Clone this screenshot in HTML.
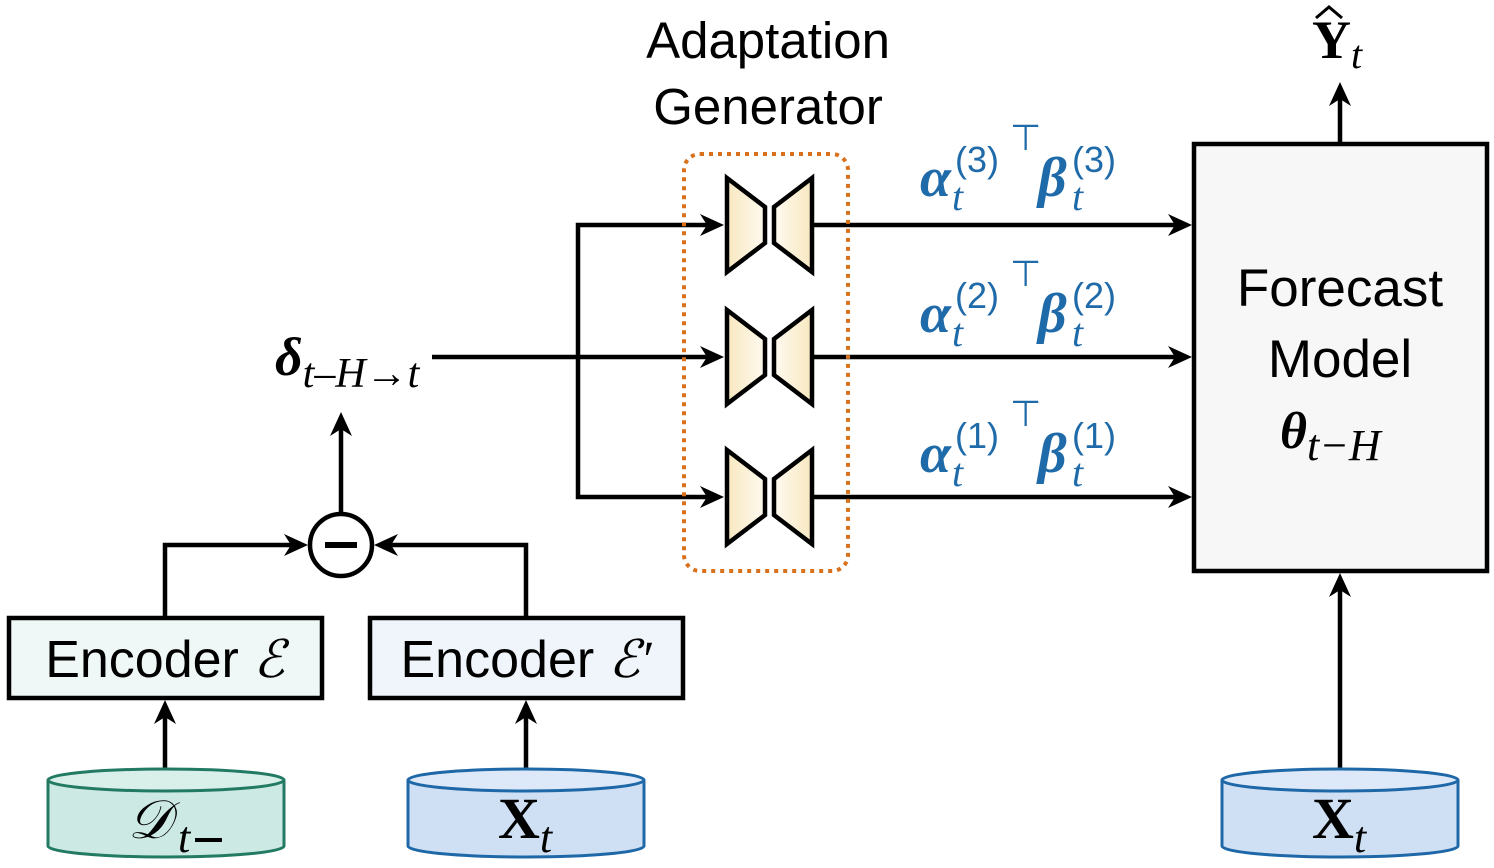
<!DOCTYPE html>
<html><head><meta charset="utf-8"><style>
html,body{margin:0;padding:0;background:#fff;}
svg{display:block;}
.sans{font-family:"Liberation Sans","DejaVu Sans",sans-serif;}
.dsans{font-family:"DejaVu Sans","Liberation Sans",sans-serif;}
.ser{font-family:"Liberation Serif","DejaVu Serif",serif;}
</style></head><body>
<svg width="1494" height="868" viewBox="0 0 1494 868" xmlns="http://www.w3.org/2000/svg">
<defs>
<linearGradient id="gy" x1="0" x2="1" y1="0" y2="0">
<stop offset="0" stop-color="#f8e8c0"/><stop offset="1" stop-color="#fffaf0"/>
</linearGradient>
<linearGradient id="gy2" x1="1" x2="0" y1="0" y2="0">
<stop offset="0" stop-color="#f8e8c0"/><stop offset="1" stop-color="#fffaf0"/>
</linearGradient>
<g id="bow">
<path d="M727,-47 L765,-18 L765,18 L727,47 Z" fill="url(#gy)" stroke="#000" stroke-width="4.5"/>
<path d="M812,-47 L774,-18 L774,18 L812,47 Z" fill="url(#gy2)" stroke="#000" stroke-width="4.5"/>
</g>
</defs>

<g stroke="#000" stroke-width="4.5" fill="none">
<polyline points="165,617 165,545 300,545"/>
<polyline points="526,617 526,545 382,545"/>
<line x1="341" y1="514" x2="341" y2="420"/>
<line x1="165" y1="768" x2="165" y2="708"/>
<line x1="526" y1="768" x2="526" y2="708"/>
<line x1="432" y1="357" x2="716" y2="357"/>
<polyline points="716,225 578,225 578,497 716,497"/>
<line x1="812" y1="225" x2="1184" y2="225"/>
<line x1="812" y1="357" x2="1184" y2="357"/>
<line x1="812" y1="497" x2="1184" y2="497"/>
<line x1="1340" y1="143" x2="1340" y2="90"/>
<line x1="1340" y1="768" x2="1340" y2="581"/>
</g>
<g fill="#000">
<path d="M308,545 L284,534 L291,545 L284,556 Z"/>
<path d="M374,545 L398,534 L391,545 L398,556 Z"/>
<path d="M724,225 L700,214 L707,225 L700,236 Z"/>
<path d="M724,357 L700,346 L707,357 L700,368 Z"/>
<path d="M724,497 L700,486 L707,497 L700,508 Z"/>
<path d="M1192,225 L1168,214 L1175,225 L1168,236 Z"/>
<path d="M1192,357 L1168,346 L1175,357 L1168,368 Z"/>
<path d="M1192,497 L1168,486 L1175,497 L1168,508 Z"/>
<path d="M341,412 L330,436 L341,429 L352,436 Z"/>
<path d="M165,700 L154,724 L165,717 L176,724 Z"/>
<path d="M526,700 L515,724 L526,717 L537,724 Z"/>
<path d="M1340,82 L1329,106 L1340,99 L1351,106 Z"/>
<path d="M1340,573 L1329,597 L1340,590 L1351,597 Z"/>
</g>

<circle cx="341" cy="545" r="31" fill="#fff" stroke="#000" stroke-width="4.5"/>
<line x1="325" y1="545" x2="357" y2="545" stroke="#000" stroke-width="6"/>

<rect x="9" y="618" width="313" height="80" fill="#eff8f6" stroke="#000" stroke-width="4.5"/>
<text x="165" y="677" class="sans" font-size="52" text-anchor="middle">Encoder <tspan class="ser" font-style="italic">ℰ</tspan></text>
<rect x="370" y="618" width="313" height="80" fill="#eff5fa" stroke="#000" stroke-width="4.5"/>
<text x="526" y="677" class="sans" font-size="52" text-anchor="middle">Encoder <tspan class="ser" font-style="italic">ℰ′</tspan></text>

<g stroke-width="3">
<path d="M48,780 L48,846 A118,11 0 0 0 284,846 L284,780" fill="#cce9e3" stroke="#237a63"/>
<ellipse cx="166" cy="780" rx="118" ry="11" fill="#d8efea" stroke="#237a63"/>
<path d="M408,780 L408,846 A118,11 0 0 0 644,846 L644,780" fill="#cfe0f4" stroke="#1f68a8"/>
<ellipse cx="526" cy="780" rx="118" ry="11" fill="#dde9f8" stroke="#1f68a8"/>
<path d="M1222,780 L1222,846 A118,11 0 0 0 1458,846 L1458,780" fill="#cfe0f4" stroke="#1f68a8"/>
<ellipse cx="1340" cy="780" rx="118" ry="11" fill="#dde9f8" stroke="#1f68a8"/>
</g>
<text x="128" y="838" class="ser" font-size="54" font-style="italic">𝒟</text>
<text x="178" y="852" class="ser" font-size="44" font-style="italic">t</text>
<line x1="195" y1="840" x2="222" y2="840" stroke="#000" stroke-width="4"/>
<text x="498" y="838" class="ser" font-size="58" font-weight="bold">X<tspan font-size="44" font-style="italic" font-weight="normal" dy="14">t</tspan></text>
<text x="1312" y="838" class="ser" font-size="58" font-weight="bold">X<tspan font-size="44" font-style="italic" font-weight="normal" dy="14">t</tspan></text>

<text x="275" y="375" class="ser" font-size="54" font-weight="bold" font-style="italic">δ<tspan font-size="42" font-weight="normal" dy="12">t–H→t</tspan></text>

<text x="768" y="58" class="sans" font-size="51" text-anchor="middle">Adaptation</text>
<text x="768" y="124" class="sans" font-size="51" text-anchor="middle">Generator</text>
<rect x="684" y="154" width="164" height="417" rx="16" fill="none" stroke="#d9711c" stroke-width="4" stroke-dasharray="4,5"/>
<use href="#bow" transform="translate(0,225)"/>
<use href="#bow" transform="translate(0,357)"/>
<use href="#bow" transform="translate(0,497)"/>

<g fill="#1f6aa8">
<g>
<text x="920" y="196" class="ser" font-size="56" font-weight="bold" font-style="italic">α</text>
<text x="952" y="210" class="ser" font-size="40" font-style="italic">t</text>
<text x="955" y="172" class="sans" font-size="36">(3)</text>
<text x="1010" y="150" class="dsans" font-size="36">⊤</text>
<text x="1038" y="196" class="ser" font-size="56" font-weight="bold" font-style="italic">β</text>
<text x="1072" y="210" class="ser" font-size="40" font-style="italic">t</text>
<text x="1072" y="172" class="sans" font-size="36">(3)</text>
</g>
<g transform="translate(0,136)">
<text x="920" y="196" class="ser" font-size="56" font-weight="bold" font-style="italic">α</text>
<text x="952" y="210" class="ser" font-size="40" font-style="italic">t</text>
<text x="955" y="172" class="sans" font-size="36">(2)</text>
<text x="1010" y="150" class="dsans" font-size="36">⊤</text>
<text x="1038" y="196" class="ser" font-size="56" font-weight="bold" font-style="italic">β</text>
<text x="1072" y="210" class="ser" font-size="40" font-style="italic">t</text>
<text x="1072" y="172" class="sans" font-size="36">(2)</text>
</g>
<g transform="translate(0,276)">
<text x="920" y="196" class="ser" font-size="56" font-weight="bold" font-style="italic">α</text>
<text x="952" y="210" class="ser" font-size="40" font-style="italic">t</text>
<text x="955" y="172" class="sans" font-size="36">(1)</text>
<text x="1010" y="150" class="dsans" font-size="36">⊤</text>
<text x="1038" y="196" class="ser" font-size="56" font-weight="bold" font-style="italic">β</text>
<text x="1072" y="210" class="ser" font-size="40" font-style="italic">t</text>
<text x="1072" y="172" class="sans" font-size="36">(1)</text>
</g>
</g>

<rect x="1194" y="144" width="293" height="427" fill="#f7f7f7" stroke="#000" stroke-width="4.5"/>
<text x="1340" y="306" class="sans" font-size="53" text-anchor="middle">Forecast</text>
<text x="1340" y="377" class="sans" font-size="53" text-anchor="middle">Model</text>
<text x="1280" y="448" class="ser" font-size="52" font-weight="bold" font-style="italic">θ<tspan font-size="44" font-weight="normal" dy="12">t−H</tspan></text>

<text x="1312" y="58" class="ser" font-size="54" font-weight="bold">Y<tspan font-size="40" font-style="italic" font-weight="normal" dy="10">t</tspan></text>
<path d="M1316,18 L1329,7 L1342,18" fill="none" stroke="#000" stroke-width="3"/>
</svg>
</body></html>
